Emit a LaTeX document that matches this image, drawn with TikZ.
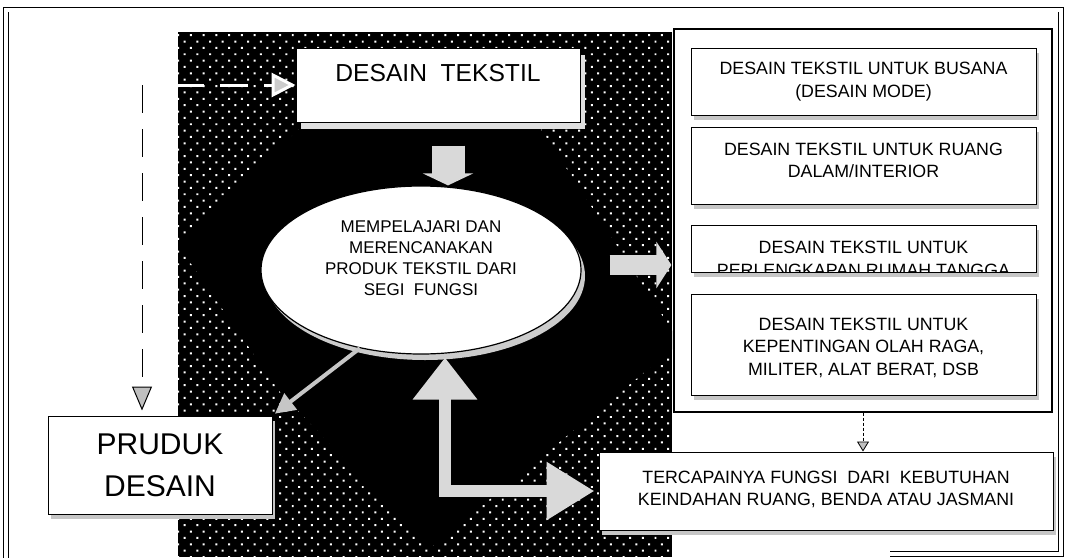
\documentclass[tikz,border=0pt]{standalone}
\usepackage{fontspec}
\setmainfont{Liberation Sans}
\usetikzlibrary{shapes.geometric, arrows.meta, patterns.meta, shadows, positioning, calc}

\begin{document}
\begin{tikzpicture}[x=1pt, y=-1pt,
    plainbox/.style={draw, line width=1pt, fill=white, align=center, inner sep=2pt, font=\fontsize{17.8}{22.5}\selectfont},
    boxshadow/.style={drop shadow={shadow xshift=3pt, shadow yshift=-5pt, fill=gray!45, opacity=1}},
    fatarrow/.style={draw=gray!30, line width=#1},
    dashline/.style={dash pattern=on 28pt off 16pt, line width=1pt},
  ]
    \useasboundingbox (0,0) rectangle (1068,557);
    % frame
    \draw[double, double distance=4pt, line width=0.9pt] (6,560) -- (6,9.5) -- (1061,9.5) -- (1061,554) -- (890,554);
    % dark dotted ground with black diamond
    \fill[black] (178,32) rectangle (672,557);
    \fill[pattern={Dots[distance=9pt, radius=1.4pt, angle=45]}, pattern color=white] (178,32) rectangle (672,557);
    \begin{scope}
        \clip (178,32) rectangle (672,557);
        \fill[black] (300,128) -- (540,128) -- (680,343) -- (430,548) -- (280,392) -- (183,252) -- (183,240) -- cycle;
    \end{scope}

    \node[plainbox, minimum width=284pt, minimum height=74pt, text depth=24pt, font=\fontsize{24.6}{30}\selectfont,
        drop shadow={shadow xshift=5pt, shadow yshift=-7pt, fill=gray!25, opacity=1}] (desain) at (438,85) {DESAIN\ \ TEKSTIL};
    \node[ellipse, draw, line width=1.2pt, fill=white, minimum width=320pt, minimum height=168pt, align=center,
        text depth=23pt, font=\fontsize{17}{21}\selectfont,
        drop shadow={shadow xshift=4pt, shadow yshift=-6pt, fill=gray!40, opacity=1}] (ell) at (421,270)
        {MEMPELAJARI DAN\\MERENCANAKAN\\PRODUK TEKSTIL DARI\\SEGI\ \ FUNGSI};
    \node[plainbox, boxshadow, minimum width=224pt, minimum height=98pt, font=\fontsize{30}{42}\selectfont] (produk) at (160,465) {PRUDUK\\DESAIN};

    % right panel
    \node[draw, line width=1.2pt, fill=white, minimum width=378pt, minimum height=383pt] (panel) at (863,220.5) {};
    \node[plainbox, boxshadow, minimum width=345pt, minimum height=67pt] (busana) at (863.5,81.5) {DESAIN TEKSTIL UNTUK BUSANA\\(DESAIN MODE)};
    \node[plainbox, boxshadow, minimum width=345pt, minimum height=77pt, text depth=10pt] (interior) at (863.5,165.5) {DESAIN TEKSTIL UNTUK RUANG\\DALAM/INTERIOR};
    \node[plainbox, boxshadow, minimum width=345pt, minimum height=47pt] (rumah) at (863.5,248.5) {};
    \begin{scope}
        \clip (rumah.south west) rectangle (rumah.north east);
        \node[align=center, font=\fontsize{17.8}{22.5}\selectfont] (rumahtext) at (863.5,259) {DESAIN TEKSTIL UNTUK\\PERLENGKAPAN RUMAH TANGGA};
    \end{scope}
    \node[plainbox, boxshadow, minimum width=345pt, minimum height=101pt, text height=64pt] (olahraga) at (863.5,344.5) {DESAIN TEKSTIL UNTUK\\KEPENTINGAN OLAH RAGA,\\MILITER, ALAT BERAT, DSB};
    \node[plainbox, boxshadow, minimum width=454pt, minimum height=78pt, text depth=5pt] (tercapai) at (826,491) {TERCAPAINYA FUNGSI\ \ DARI\ \ KEBUTUHAN\\KEINDAHAN RUANG, BENDA ATAU JASMANI};

    % arrows
    \draw[fatarrow=33pt, -{Triangle[length=12pt,width=50pt]}, shorten <=23pt] ([xshift=10pt]desain.south) -- ([xshift=10pt]desain.south |- ell.north);
    \draw[fatarrow=20pt, -{Triangle[length=15pt,width=46pt]}, shorten <=28pt, shorten >=2pt] ([yshift=5pt]ell.east) -- ([yshift=5pt]ell.east -| panel.west);
    \draw[draw=gray!45, line width=4pt, -{Triangle[length=20pt,width=20pt]}, shorten >=3pt] (ell.232) -- (produk.north east);
    \draw[fatarrow=12pt, line join=miter, {Triangle[length=42pt,width=62pt]}-{Triangle[length=48pt,width=55pt]}, shorten <=3pt, shorten >=4pt] ([xshift=24pt]ell.south) |- (tercapai.west);
    \coordinate (fork) at (142,85);
    \draw[dashline, white, line width=3pt, dash phase=10pt, -{Triangle[length=24pt,width=24pt,fill=gray!40]}] (fork) -- (fork -| desain.west);
    \draw[dashline, -{Triangle[length=24pt,width=20pt,fill=gray!50]}, shorten >=5pt] (fork) -- (fork |- produk.north);
    \draw[densely dashed, line width=0.8pt, -{Triangle[length=10pt,width=12pt,fill=gray!50]}] (panel.south) -- (panel.south |- tercapai.north);
\end{tikzpicture}
\end{document}
